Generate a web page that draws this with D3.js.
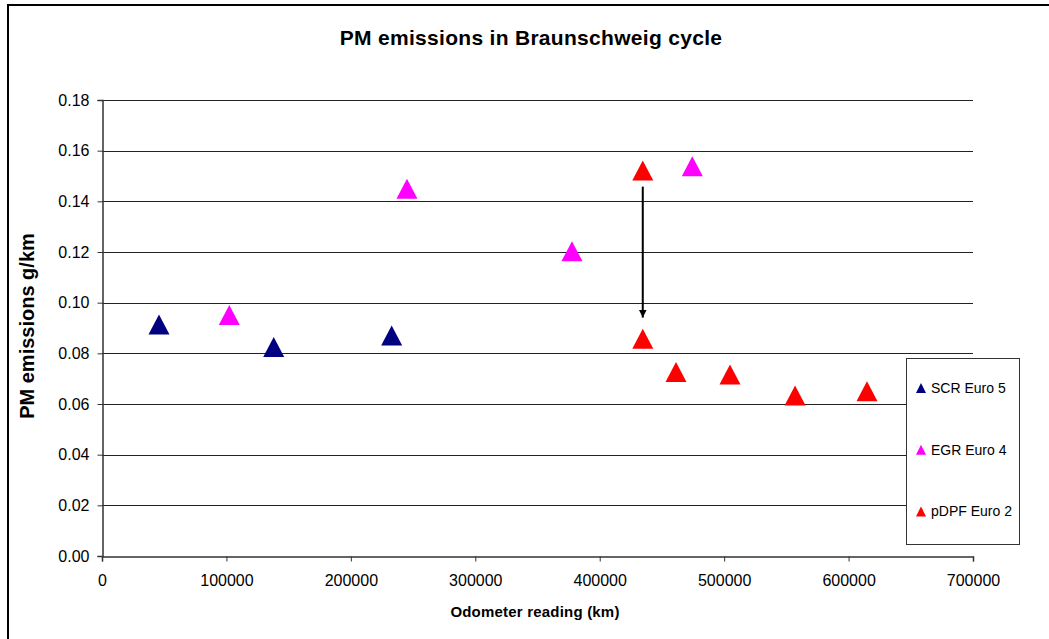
<!DOCTYPE html>
<html>
<head>
<meta charset="utf-8">
<script src="https://cdn.jsdelivr.net/npm/d3@7"></script>
<style>
  body { margin: 0; background: #fff; }
  text { font-family: Arial, "Liberation Sans", sans-serif; }
</style>
</head>
<body>
<svg id="chart"></svg>
<script>
// series values (odometer km, PM g/km)
const scrKm = [45800, 138000, 232800];
const scrPm = [0.0914, 0.0825, 0.0870];

const egrKm = [102300, 245100, 377700, 474400];
const egrPm = [0.0951, 0.1450, 0.1203, 0.1538];

const dpfKm = [434600, 434600, 461300, 504700, 557000, 614800];
const dpfPm = [0.1522, 0.0858, 0.0726, 0.0716, 0.0634, 0.0650];

const seriesNames = ['SCR Euro 5', 'EGR Euro 4', 'pDPF Euro 2'];
const seriesColors = ['#000080', '#FF00FF', '#FF0000'];

const xTicks = [0, 100000, 200000, 300000, 400000, 500000, 600000, 700000];
const yTicks = [0, 0.02, 0.04, 0.06, 0.08, 0.10, 0.12, 0.14, 0.16, 0.18];

// arrow between the two pDPF readings at the same odometer value
const arrowKm = 434600,
    arrowFrom = 0.1458,
    arrowTo = 0.0941;

const width = 1049,
    height = 639,
    margin = {left: 102, right: 76, top: 100, bottom: 83};

const svg = d3.select('#chart')
    .attr('width', width)
    .attr('height', height);

const x = d3.scaleLinear()
    .domain([0, 700000])
    .range([margin.left, width - margin.right]);

const y = d3.scaleLinear()
    .domain([0, 0.18])
    .range([height - margin.bottom, margin.top]);

// outer chart border (only top and left show in the picture)
svg.append('line')
    .attr('x1', 8).attr('x2', width)
    .attr('y1', 5).attr('y2', 5)
    .attr('stroke', '#000').attr('stroke-width', 2);
svg.append('line')
    .attr('x1', 8).attr('x2', 8)
    .attr('y1', 4).attr('y2', height)
    .attr('stroke', '#000').attr('stroke-width', 2);

// Title
svg.append('text')
    .attr('x', 531)
    .attr('y', 45)
    .attr('text-anchor', 'middle')
    .attr('font-size', '21px')
    .attr('font-weight', 'bold')
    .attr('letter-spacing', '0.3px')
    .text('PM emissions in Braunschweig cycle');

// Gridlines
svg.append('g')
    .selectAll('line')
    .data(yTicks.slice(1))
    .join('line')
    .attr('x1', x(0))
    .attr('x2', x(700000))
    .attr('y1', d => Math.round(y(d)) + 0.5)
    .attr('y2', d => Math.round(y(d)) + 0.5)
    .attr('stroke', '#222')
    .attr('stroke-width', 1);

// Axes
const xAxis = svg.append('g')
    .attr('transform', 'translate(0,' + (Math.round(y(0)) + 0.5) + ')')
    .call(d3.axisBottom(x).tickValues(xTicks).tickFormat(d3.format('d')).tickSize(5).tickPadding(13));

const yAxis = svg.append('g')
    .attr('transform', 'translate(' + (Math.round(x(0)) + 0.5) + ',0)')
    .call(d3.axisLeft(y).tickValues(yTicks).tickFormat(d3.format('.2f')).tickSize(5).tickPadding(8));

[xAxis, yAxis].forEach(function (a) {
    a.select('.domain').attr('stroke', '#333').attr('stroke-width', 1.5);
    a.selectAll('.tick line').attr('stroke', '#333');
    a.selectAll('.tick text')
        .attr('font-size', '16px')
        .attr('font-family', 'Arial, "Liberation Sans", sans-serif')
        .attr('fill', '#000');
});

// Axis titles
svg.append('text')
    .attr('x', 535)
    .attr('y', 617)
    .attr('text-anchor', 'middle')
    .attr('font-size', '15px')
    .attr('font-weight', 'bold')
    .attr('letter-spacing', '0.2px')
    .text('Odometer reading (km)');

svg.append('text')
    .attr('transform', 'translate(34,' + 326 + ') rotate(-90)')
    .attr('text-anchor', 'middle')
    .attr('font-size', '20px')
    .attr('font-weight', 'bold')
    .text('PM emissions g/km');

// triangle marker path centered on its box
const triangle = function (w, h) {
    return 'M0,' + (-h / 2) + 'L' + (w / 2) + ',' + (h / 2) + 'L' + (-w / 2) + ',' + (h / 2) + 'Z';
};

const seriesData = [
    d3.zip(scrKm, scrPm),
    d3.zip(egrKm, egrPm),
    d3.zip(dpfKm, dpfPm)
];

seriesData.forEach(function (pts, i) {
    svg.append('g')
        .selectAll('path')
        .data(pts)
        .join('path')
        .attr('d', triangle(21, 20))
        .attr('transform', d => 'translate(' + x(d[0]) + ',' + y(d[1]) + ')')
        .attr('fill', seriesColors[i]);
});

// Arrow
svg.append('defs')
    .append('marker')
    .attr('id', 'arrowhead')
    .attr('viewBox', '0 0 10 10')
    .attr('refX', 10)
    .attr('refY', 5)
    .attr('markerWidth', 4)
    .attr('markerHeight', 4)
    .attr('markerUnits', 'strokeWidth')
    .attr('orient', 'auto')
    .append('path')
    .attr('d', 'M0,0L10,5L0,10Z')
    .attr('fill', '#000');

svg.append('line')
    .attr('x1', x(arrowKm))
    .attr('x2', x(arrowKm))
    .attr('y1', y(arrowFrom))
    .attr('y2', y(arrowTo))
    .attr('stroke', '#000')
    .attr('stroke-width', 2)
    .attr('marker-end', 'url(#arrowhead)');

// Legend
const legend = svg.append('g');

legend.append('rect')
    .attr('x', 906.5)
    .attr('y', 358.5)
    .attr('width', 113)
    .attr('height', 186)
    .attr('fill', '#fff')
    .attr('stroke', '#333')
    .attr('stroke-width', 1);

seriesNames.forEach(function (name, i) {
    var cy = 388 + i * 61.7;
    legend.append('path')
        .attr('d', triangle(10, 10))
        .attr('transform', 'translate(921,' + cy + ')')
        .attr('fill', seriesColors[i]);
    legend.append('text')
        .attr('x', 931)
        .attr('y', cy + 5)
        .attr('font-size', '14px')
        .text(name);
});
</script>
</body>
</html>
